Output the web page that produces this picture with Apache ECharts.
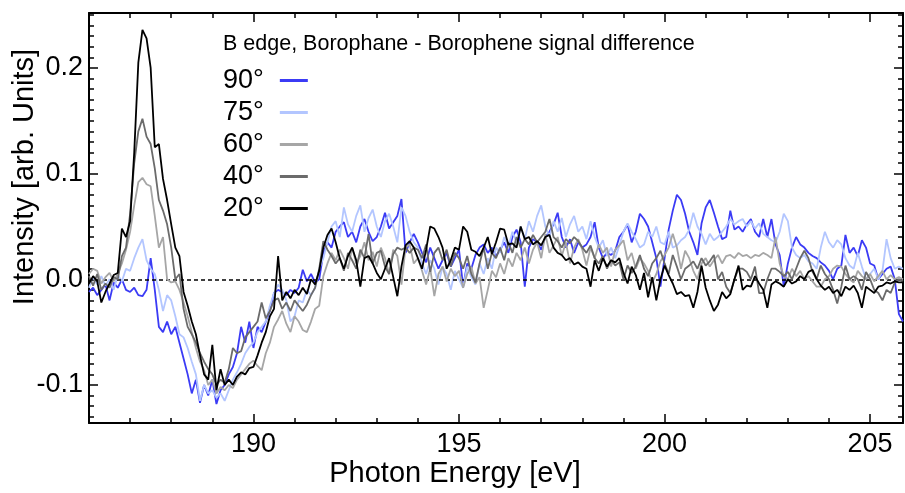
<!DOCTYPE html>
<html><head><meta charset="utf-8">
<script src="https://cdn.jsdelivr.net/npm/echarts@6/dist/echarts.min.js"></script>
<style>html,body{margin:0;padding:0;background:#fff}#chart{width:905px;height:493px}</style>
</head><body><div id="chart"></div>
<script>
const energyStart = 186.0;
const energyStep = 0.1;
const legendTitle = 'B edge, Borophane - Borophene signal difference';
const seriesNames = ['90°', '75°', '60°', '40°', '20°'];
const xTickLabels = [190, 195, 200, 205];
const yTickLabels = [-0.1, 0.0, 0.1, 0.2];
const xTitle = 'Photon Energy [eV]';
const yTitle = 'Intensity [arb. Units]';

const s90 = [
-0.012,-0.008,-0.015,-0.010,-0.005,-0.020,-0.003,-0.008,0.000,-0.010,
-0.012,-0.008,-0.015,-0.016,-0.010,0.020,-0.010,-0.045,-0.050,-0.040,
-0.052,-0.045,-0.060,-0.075,-0.090,-0.108,-0.095,-0.117,-0.100,-0.110,
-0.095,-0.118,-0.105,-0.100,-0.090,-0.083,-0.070,-0.045,-0.060,-0.040,
-0.065,-0.045,-0.050,-0.040,-0.030,-0.013,-0.010,-0.012,-0.015,-0.010,
-0.013,-0.008,0.009,-0.002,0.005,-0.003,0.000,0.025,0.035,0.030,
0.045,0.050,0.054,0.040,0.045,0.035,0.050,0.057,0.045,0.036,
0.040,0.050,0.063,0.048,0.054,0.060,0.076,0.025,0.035,0.043,
0.035,0.025,0.016,0.030,0.020,0.010,0.018,0.025,0.012,0.020,
0.028,-0.007,0.015,0.010,0.023,0.030,0.033,0.025,0.030,0.022,
0.028,0.035,0.025,0.040,0.047,0.035,-0.007,0.030,0.038,0.035,
0.028,0.040,0.045,0.052,0.063,0.040,0.030,0.038,0.025,0.035,
0.030,0.033,0.040,0.054,0.030,0.020,0.025,0.023,0.027,0.040,
0.045,0.052,0.035,0.045,0.062,0.057,0.050,0.035,0.020,-0.007,
0.020,0.047,0.065,0.080,0.075,0.062,0.045,0.035,0.023,0.053,
0.068,0.075,0.063,0.050,0.038,0.040,0.065,0.047,0.050,0.045,
0.052,0.057,0.045,0.040,0.057,0.040,0.057,0.033,0.023,-0.007,
0.015,0.030,0.040,0.033,0.030,0.025,0.022,0.020,0.016,0.013,
0.008,0.000,0.010,0.013,0.042,0.025,0.030,0.022,0.037,0.030,
0.015,0.013,0.000,0.005,0.010,0.012,0.000,-0.033,-0.040
];
const s75 = [
-0.008,0.002,-0.005,0.003,-0.006,0.000,-0.010,0.004,-0.002,0.010,
0.008,0.020,0.030,0.038,0.018,0.010,0.005,-0.010,-0.030,-0.015,
-0.020,-0.035,-0.052,-0.055,-0.065,-0.078,-0.090,-0.115,-0.100,-0.108,
-0.105,-0.112,-0.108,-0.115,-0.105,-0.095,-0.088,-0.080,-0.070,-0.064,
-0.060,-0.050,-0.045,-0.040,-0.025,-0.013,-0.005,-0.010,-0.020,-0.040,
-0.035,-0.020,-0.022,-0.010,-0.015,-0.008,0.010,0.020,0.035,0.050,
0.055,0.040,0.068,0.052,0.045,0.060,0.070,0.045,0.058,0.066,
0.050,0.040,0.055,0.062,0.050,0.035,0.068,0.060,0.045,0.035,
0.030,0.015,0.005,0.018,0.010,-0.005,0.012,0.005,-0.010,0.008,
0.000,-0.008,0.012,0.002,-0.005,0.015,0.005,0.020,0.010,0.030,
0.025,0.040,0.030,0.045,0.035,0.050,0.038,0.055,0.045,0.060,
0.070,0.050,0.040,0.055,0.045,0.058,0.040,0.052,0.060,0.045,
0.050,0.038,0.055,0.040,0.030,0.037,0.022,0.030,0.020,0.032,
0.045,0.053,0.045,0.038,0.030,0.033,0.045,0.040,0.050,0.035,
0.033,0.045,0.030,0.032,0.037,0.040,0.047,0.063,0.050,0.043,
0.033,0.043,0.037,0.040,0.045,0.050,0.057,0.052,0.055,0.057,
0.050,0.055,0.048,0.053,0.043,0.040,0.037,0.035,0.045,0.062,
0.055,0.030,0.023,0.020,0.023,0.017,0.015,0.010,0.030,0.045,
0.035,0.030,0.037,0.033,0.020,0.013,0.010,0.025,0.012,0.000,
0.005,0.010,0.000,0.008,0.038,0.020,0.010,0.012,0.010
];
const s60 = [
0.005,0.010,0.008,-0.004,0.002,0.006,-0.002,0.005,0.015,0.028,
0.045,0.070,0.092,0.096,0.090,0.088,0.060,0.030,0.040,0.000,
-0.003,-0.002,-0.010,-0.022,-0.035,-0.050,-0.065,-0.078,-0.086,-0.100,
-0.095,-0.108,-0.102,-0.105,-0.100,-0.103,-0.095,-0.090,-0.085,-0.080,
-0.077,-0.082,-0.086,-0.070,-0.060,-0.045,-0.038,-0.030,-0.042,-0.050,
-0.035,-0.040,-0.048,-0.050,-0.040,-0.028,-0.025,0.003,0.015,0.025,
0.018,0.028,0.020,0.010,0.030,0.015,0.022,0.035,0.018,0.026,
0.012,0.030,0.020,0.005,0.028,0.022,-0.005,0.030,0.033,0.015,
0.020,0.008,-0.005,0.010,-0.016,0.005,0.012,-0.002,0.010,0.003,
0.008,-0.008,0.005,0.012,-0.004,0.002,-0.027,-0.010,0.008,0.002,
0.015,0.005,0.020,0.012,0.025,0.018,0.030,0.015,0.028,0.035,
0.020,0.043,0.025,0.032,0.040,0.022,0.035,0.015,0.030,0.038,
0.028,0.013,0.030,0.020,0.033,0.025,0.030,0.012,0.028,0.032,
0.037,0.018,0.025,0.010,0.020,0.015,0.008,-0.003,0.005,0.017,
0.023,0.030,0.043,0.030,0.010,0.027,0.020,0.008,0.000,0.015,
0.020,0.012,0.018,0.023,0.015,0.022,0.023,0.020,0.025,0.022,
0.023,0.020,0.023,0.022,0.025,0.023,0.020,0.040,0.015,0.003,
0.000,0.010,0.003,0.008,0.000,0.003,-0.002,-0.007,-0.007,0.000,
0.003,0.010,0.013,0.012,0.005,0.000,-0.003,0.008,0.003,0.000,
0.005,-0.002,0.003,0.008,0.000,0.004,0.000,0.002,0.000
];
const s40 = [
0.003,-0.006,0.005,-0.010,-0.004,-0.008,0.002,0.000,0.022,0.030,
0.062,0.110,0.140,0.152,0.135,0.128,0.105,0.075,0.065,0.052,
0.030,0.000,0.005,-0.028,-0.045,-0.052,-0.060,-0.070,-0.078,-0.085,
-0.090,-0.100,-0.095,-0.098,-0.085,-0.065,-0.070,-0.068,-0.055,-0.050,
-0.045,-0.040,-0.022,-0.037,-0.030,-0.020,-0.018,-0.028,-0.022,-0.030,
-0.020,-0.025,-0.030,-0.024,-0.015,-0.008,0.010,0.036,0.028,0.022,
0.015,0.020,0.008,0.025,0.018,0.010,0.028,0.020,0.043,0.015,
0.025,0.027,0.012,0.005,0.024,0.030,0.028,0.030,0.025,0.030,
0.028,0.020,0.033,0.007,0.025,0.030,0.018,0.028,0.012,0.025,
0.020,0.010,0.022,0.005,-0.003,0.015,0.030,0.010,0.025,0.020,
0.030,0.018,0.035,0.025,0.040,0.030,0.038,0.033,0.042,0.035,
0.040,0.045,0.057,0.040,0.036,0.030,0.038,0.034,0.040,0.036,
0.030,0.025,0.032,0.020,0.015,0.022,0.010,0.018,0.013,0.016,
0.000,0.013,0.006,0.012,0.023,0.010,0.003,0.015,0.020,0.027,
0.015,0.005,0.023,0.012,0.000,0.010,0.013,0.017,0.010,0.020,
0.013,0.017,0.023,0.000,0.007,-0.007,-0.013,0.000,0.010,0.010,
0.007,0.000,0.012,-0.013,-0.013,0.000,0.010,0.010,0.007,0.003,
0.007,0.000,0.010,0.020,0.027,0.020,0.007,0.000,0.013,0.005,
0.000,-0.010,-0.023,-0.007,0.013,0.000,0.003,0.000,-0.010,0.007,
0.000,-0.010,-0.013,-0.020,-0.010,-0.013,-0.003,0.000,-0.002
];
const s20 = [
-0.004,0.003,-0.002,-0.022,-0.012,-0.004,0.004,0.006,0.048,0.040,
0.055,0.120,0.205,0.236,0.228,0.200,0.125,0.128,0.095,0.075,
0.052,0.030,0.022,-0.012,-0.025,-0.040,-0.052,-0.072,-0.090,-0.095,
-0.062,-0.105,-0.085,-0.100,-0.095,-0.100,-0.092,-0.088,-0.090,-0.084,
-0.083,-0.072,-0.060,-0.050,-0.035,-0.028,0.022,-0.020,-0.012,-0.018,
-0.010,-0.015,-0.008,-0.014,0.000,-0.005,0.008,0.030,0.042,0.048,
0.035,0.020,0.010,0.022,0.030,0.018,-0.007,0.020,0.022,0.015,
0.006,0.000,0.010,0.020,0.002,-0.016,0.012,0.032,0.036,0.030,
0.020,0.010,0.028,0.050,0.048,0.040,0.030,0.010,0.018,0.030,
0.028,0.050,0.045,0.028,0.026,0.022,0.030,0.040,0.024,0.035,
0.048,0.047,0.033,0.034,0.030,0.050,0.038,0.040,0.033,0.036,
0.032,0.040,0.042,0.030,0.025,0.023,0.018,0.020,0.014,0.016,
0.012,0.010,-0.007,0.018,0.008,0.020,0.012,0.018,0.016,0.020,
0.006,-0.004,0.012,0.004,-0.010,0.006,-0.017,0.002,-0.020,0.000,
0.013,0.004,-0.004,-0.014,-0.012,-0.016,-0.015,-0.027,-0.012,0.013,
-0.008,-0.020,-0.030,-0.024,-0.012,-0.018,-0.014,0.000,0.013,-0.010,
-0.006,-0.007,0.003,-0.004,-0.010,-0.027,-0.005,-0.002,-0.004,-0.007,
0.000,-0.004,-0.002,0.003,0.000,0.007,0.009,0.000,-0.006,-0.010,
-0.007,-0.013,-0.010,-0.016,-0.007,-0.010,-0.006,-0.013,-0.027,-0.007,
-0.010,-0.013,-0.007,-0.006,-0.003,-0.004,-0.002,-0.003,-0.003
];
const seriesValues = [s90, s75, s60, s40, s20];
const seriesColors = ['#3b3bf5', '#b3c6ff', '#a6a6a6', '#6b6b6b', '#000000'];

const X_MIN = 186, X_MAX = 205.8, Y_MIN = -0.136, Y_MAX = 0.252;
const FONT = "'Liberation Sans', Arial, sans-serif";

const xMinor = [];
for (let v = 187; v <= 205; v++) if (v % 5 !== 0) xMinor.push(v);
const yMinor = [];
for (let k = -13; k <= 25; k++) if (k % 10 !== 0) yMinor.push(+(k / 100).toFixed(2));

function xAx(pos, major, withLine, withLabel) {
  return {
    type: 'value', min: X_MIN, max: X_MAX, position: pos,
    axisLine: { show: withLine, onZero: false, lineStyle: { color: '#000', width: 2 } },
    axisTick: { show: true, inside: true, length: major ? 9 : 5, customValues: major ? xTickLabels : xMinor,
      lineStyle: { color: '#000', width: 1.5 } },
    axisLabel: { show: withLabel, customValues: xTickLabels, fontSize: 27, color: '#000', fontFamily: FONT, margin: 8 },
    splitLine: { show: false }
  };
}
function yAx(pos, major, withLine, withLabel) {
  return {
    type: 'value', min: Y_MIN, max: Y_MAX, position: pos,
    axisLine: { show: withLine, onZero: false, lineStyle: { color: '#000', width: 2 } },
    axisTick: { show: true, inside: true, length: major ? 9 : 5, customValues: major ? yTickLabels : yMinor,
      lineStyle: { color: '#000', width: 1.5 } },
    axisLabel: { show: withLabel, customValues: yTickLabels, fontSize: 27, color: '#000', fontFamily: FONT, margin: 6,
      formatter: v => v.toFixed(1) },
    splitLine: { show: false }
  };
}

const series = seriesNames.map((name, si) => {
  const vals = seriesValues[si];
  const s = {
    name, type: 'line', symbol: 'none', showSymbol: false,
    data: vals.map((v, i) => [+(energyStart + i * energyStep).toFixed(2), v]),
    lineStyle: { color: seriesColors[si], width: 1.8 },
    itemStyle: { color: seriesColors[si] },
    emphasis: { disabled: true },
    xAxisIndex: 0, yAxisIndex: 0, z: 3 + si
  };
  if (si === 0) {
    s.markLine = { silent: true, symbol: 'none', label: { show: false },
      lineStyle: { color: '#000', type: [4, 3], width: 1.5 }, data: [{ yAxis: 0 }] };
  }
  return s;
});

const chart = echarts.init(document.getElementById('chart'));
chart.setOption({
  animation: false,
  backgroundColor: '#fff',
  grid: { left: 89, right: 2, top: 13, bottom: 70, containLabel: false },
  title: { text: legendTitle, left: 218, top: 28, textStyle: { fontSize: 21.5, fontWeight: 'normal', color: '#000', fontFamily: FONT } },
  legend: {
    orient: 'vertical', left: 218, top: 62, itemGap: 5, align: 'right', icon: 'rect',
    itemWidth: 28, itemHeight: 3, data: seriesNames,
    textStyle: { fontSize: 27, lineHeight: 27, color: '#000', fontFamily: FONT, padding: [0, 11, 0, 0] }
  },
  xAxis: [xAx('bottom', true, true, true), xAx('bottom', false, false, false), xAx('top', true, true, false), xAx('top', false, false, false)],
  yAxis: [yAx('left', true, true, true), yAx('left', false, false, false), yAx('right', true, true, false), yAx('right', false, false, false)],
  graphic: [
    { type: 'text', x: 455, y: 474, style: { text: xTitle, font: '29px ' + FONT, fill: '#000', align: 'center', verticalAlign: 'middle' } },
    { type: 'text', x: 25, y: 177, rotation: Math.PI / 2, style: { text: yTitle, font: '29px ' + FONT, fill: '#000', align: 'center', verticalAlign: 'middle' } }
  ],
  series
});
</script>
</body></html>
